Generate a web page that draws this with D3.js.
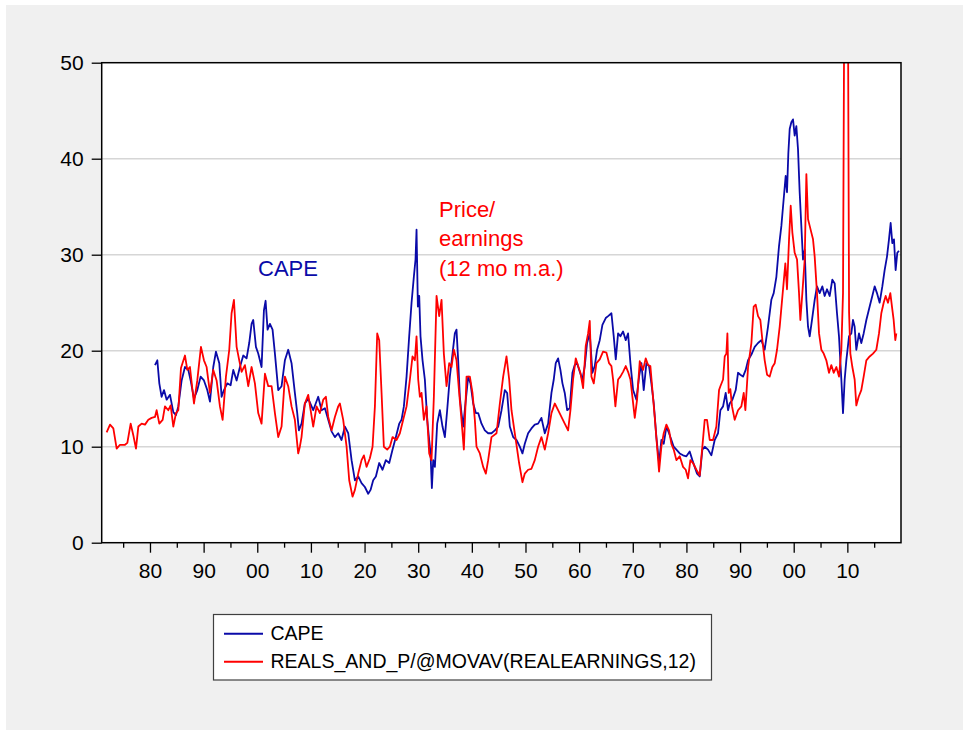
<!DOCTYPE html>
<html>
<head>
<meta charset="utf-8">
<script src="https://cdn.jsdelivr.net/npm/d3@7"></script>
<style>
body { margin: 0; background: #fff; }
text { font-family: "Liberation Sans", Arial, sans-serif; }
</style>
</head>
<body>
<div id="chart"></div>
<script>
// values, [decimal year, ratio]
var capeData = [
  [1880.93,18.5],[1881.37,19.0],[1881.74,16.6],[1882.17,15.2],[1882.61,15.9],[1883.11,14.9],[1883.73,15.4],
  [1884.35,13.6],[1884.85,13.3],[1885.28,14.2],[1885.90,16.9],[1886.52,18.3],[1887.14,18.0],[1887.58,16.9],
  [1888.20,15.0],[1888.82,15.9],[1889.44,17.3],[1890.06,16.9],[1890.68,15.9],[1891.18,14.7],[1891.80,18.3],
  [1892.30,19.9],[1892.92,18.7],[1893.35,15.2],[1893.79,15.9],[1894.41,16.6],[1895.03,16.4],[1895.53,18.0],
  [1896.15,16.9],[1896.77,18.3],[1897.39,19.5],[1898.01,19.2],[1898.50,20.8],[1898.94,22.8],[1899.25,23.2],
  [1899.75,20.4],[1900.18,19.7],[1900.80,18.3],[1901.24,24.2],[1901.55,25.2],[1901.92,22.2],[1902.36,22.8],
  [1902.85,22.2],[1903.29,19.7],[1903.91,15.9],[1904.53,16.3],[1905.15,19.0],[1905.77,20.1],[1906.39,18.7],
  [1907.01,15.6],[1907.45,13.5],[1907.76,11.7],[1908.25,12.4],[1908.87,14.5],[1909.50,15.0],[1910.43,13.8],
  [1911.36,15.2],[1911.99,13.8],[1912.61,14.0],[1913.23,12.8],[1913.85,11.6],[1914.47,11.0],[1915.09,11.4],
  [1915.71,10.7],[1916.34,12.1],[1916.96,11.4],[1917.58,8.6],[1918.20,6.5],[1918.82,6.9],[1919.44,6.2],
  [1920.06,5.8],[1920.68,5.1],[1921.12,5.5],[1921.61,6.5],[1922.11,6.9],[1922.73,8.3],[1923.35,7.6],
  [1923.97,8.6],[1924.60,8.3],[1925.22,9.7],[1925.84,11.0],[1926.46,12.4],[1926.89,12.8],[1927.33,14.2],
  [1927.83,17.3],[1928.32,21.5],[1928.76,25.0],[1929.19,27.7],[1929.50,29.5],[1929.69,32.6],[1929.94,24.6],
  [1930.19,25.7],[1930.43,21.5],[1930.81,19.0],[1931.24,17.0],[1931.68,12.8],[1932.05,10.7],[1932.30,9.3],
  [1932.55,5.7],[1932.80,8.6],[1933.11,7.9],[1933.54,12.4],[1934.04,13.8],[1934.53,12.1],[1934.97,11.0],
  [1935.40,13.8],[1935.90,17.3],[1936.40,19.7],[1936.83,21.8],[1937.14,22.2],[1937.45,19.0],[1937.76,15.2],
  [1938.07,13.5],[1938.38,12.1],[1938.88,14.9],[1939.32,17.3],[1939.75,16.6],[1940.25,14.5],[1940.75,13.5],
  [1941.18,13.5],[1941.80,12.4],[1942.42,11.7],[1943.04,11.4],[1943.66,11.4],[1944.29,11.7],[1944.91,12.1],
  [1945.53,13.8],[1946.15,15.9],[1946.58,15.6],[1947.08,12.1],[1947.70,11.0],[1948.32,10.7],[1948.94,10.0],
  [1949.43,9.3],[1949.87,10.3],[1950.49,11.4],[1951.11,11.9],[1951.73,12.3],[1952.35,12.4],[1952.97,13.0],
  [1953.60,11.4],[1954.22,12.4],[1954.84,15.6],[1955.27,17.0],[1955.64,18.7],[1956.08,19.2],[1956.51,18.0],
  [1956.89,16.6],[1957.32,15.6],[1957.76,13.8],[1958.25,14.0],[1958.75,17.7],[1959.18,18.5],[1959.62,18.7],
  [1960.12,17.8],[1960.61,17.0],[1961.05,18.4],[1961.48,20.8],[1961.98,21.8],[1962.48,17.7],[1962.91,18.4],
  [1963.35,20.1],[1963.84,21.1],[1964.34,22.7],[1964.96,23.4],[1965.40,23.6],[1966.02,23.9],[1966.45,21.5],
  [1966.83,19.1],[1967.26,21.8],[1967.69,21.5],[1968.19,22.0],[1968.69,21.1],[1969.12,21.8],[1969.56,18.7],
  [1970.06,15.9],[1970.68,14.9],[1971.17,17.3],[1971.61,18.7],[1972.04,15.9],[1972.54,18.7],[1973.04,18.4],
  [1973.47,16.6],[1973.91,14.5],[1974.40,11.0],[1974.90,8.3],[1975.33,10.7],[1975.77,10.3],[1976.27,12.1],
  [1976.76,11.4],[1977.20,10.7],[1977.63,10.0],[1978.13,9.7],[1978.75,9.3],[1979.37,9.1],[1979.99,9.0],
  [1980.61,9.5],[1981.11,8.6],[1981.54,7.9],[1981.98,7.2],[1982.48,6.9],[1982.97,9.7],[1983.41,10.0],
  [1984.03,9.7],[1984.65,9.1],[1985.27,10.7],[1985.89,11.4],[1986.33,13.8],[1986.83,14.2],[1987.32,15.6],
  [1987.76,13.8],[1988.07,14.5],[1988.57,14.9],[1989.19,15.9],[1989.62,17.7],[1990.06,17.5],[1990.55,17.3],
  [1991.05,18.0],[1991.49,19.0],[1992.11,19.6],[1992.73,20.4],[1993.35,20.8],[1993.97,21.1],[1994.59,20.1],
  [1995.21,22.5],[1995.83,25.3],[1996.27,26.0],[1996.77,27.7],[1997.26,30.9],[1997.70,33.0],[1998.13,35.8],
  [1998.50,38.2],[1998.75,36.5],[1999.00,40.6],[1999.25,43.1],[1999.56,43.8],[1999.87,44.1],[2000.18,42.4],
  [2000.49,43.4],[2000.80,41.0],[2001.11,36.5],[2001.42,33.0],[2001.73,29.5],[2002.05,30.5],[2002.36,25.3],
  [2002.67,22.5],[2002.98,21.5],[2003.41,23.2],[2003.91,25.3],[2004.34,26.7],[2004.84,26.0],[2005.34,26.7],
  [2005.77,25.7],[2006.21,26.4],[2006.70,25.7],[2007.20,27.4],[2007.64,27.0],[2008.07,23.9],[2008.44,21.5],
  [2008.88,17.0],[2009.19,13.5],[2009.50,17.0],[2009.81,19.0],[2010.31,21.5],[2010.74,21.8],[2011.05,23.2],
  [2011.36,22.5],[2011.67,20.1],[2012.17,21.8],[2012.60,20.8],[2013.04,21.8],[2013.54,23.2],[2014.16,24.6],
  [2014.65,25.7],[2015.09,26.7],[2015.52,26.0],[2016.02,25.0],[2016.52,26.7],[2016.95,28.4],[2017.39,29.8],
  [2017.76,31.6],[2018.07,33.3],[2018.38,31.2],[2018.69,31.6],[2019.00,28.4],[2019.31,30.2],[2019.62,30.4]
];

var peData = [
  [1871.92,11.5],[1872.55,12.3],[1873.17,11.9],[1873.79,9.8],[1874.41,10.2],[1875.34,10.2],[1875.78,10.4],
  [1876.40,12.4],[1876.89,11.2],[1877.39,9.8],[1877.83,12.1],[1878.45,12.4],[1879.07,12.3],[1879.69,12.8],
  [1880.31,13.0],[1880.93,13.1],[1881.24,13.8],[1881.74,12.4],[1882.36,12.8],[1882.79,14.2],[1883.42,13.8],
  [1883.85,14.3],[1884.35,12.1],[1884.85,13.5],[1885.28,13.8],[1885.78,18.2],[1886.52,19.5],[1886.96,18.0],
  [1887.45,18.3],[1888.20,14.5],[1888.82,16.9],[1889.50,20.4],[1890.06,19.0],[1890.56,18.3],[1891.18,15.6],
  [1891.80,18.0],[1892.42,16.9],[1893.04,14.2],[1893.54,12.8],[1894.16,17.3],[1894.78,20.1],[1895.21,23.9],
  [1895.65,25.3],[1896.15,20.4],[1896.64,19.0],[1897.08,17.8],[1897.70,18.5],[1898.32,16.3],[1898.94,18.3],
  [1899.56,16.6],[1900.18,13.5],[1900.80,12.4],[1901.43,17.6],[1902.05,16.3],[1902.67,16.3],[1903.29,13.5],
  [1903.91,11.0],[1904.53,12.1],[1905.15,17.3],[1905.77,16.3],[1906.39,14.2],[1907.01,12.8],[1907.63,9.3],
  [1907.94,10.0],[1908.25,11.0],[1908.87,14.5],[1909.50,15.4],[1910.43,12.1],[1911.05,14.2],[1911.67,13.5],
  [1912.30,14.9],[1912.79,15.2],[1913.23,13.1],[1913.85,11.7],[1914.47,13.1],[1915.09,14.2],[1915.40,14.5],
  [1916.02,12.8],[1916.65,10.0],[1917.14,6.5],[1917.76,4.8],[1918.20,5.5],[1918.82,7.2],[1919.44,8.6],
  [1919.88,9.1],[1920.37,7.9],[1920.99,8.8],[1921.49,10.0],[1921.93,14.2],[1922.36,21.8],[1922.73,21.1],
  [1923.17,15.6],[1923.60,10.0],[1924.22,9.7],[1924.72,10.0],[1925.22,11.0],[1925.96,10.7],[1926.58,11.4],
  [1927.20,12.8],[1927.83,14.2],[1928.45,17.0],[1928.94,19.4],[1929.38,19.0],[1929.69,21.5],[1930.00,17.0],
  [1930.31,15.2],[1930.62,15.6],[1931.06,12.8],[1931.55,14.2],[1932.05,9.3],[1932.48,8.6],[1932.92,15.2],
  [1933.42,25.7],[1933.91,23.6],[1934.35,25.3],[1934.78,19.7],[1935.28,16.3],[1935.78,18.7],[1936.21,18.3],
  [1936.65,20.1],[1937.14,19.0],[1937.64,15.6],[1938.07,12.8],[1938.51,9.7],[1939.01,17.3],[1939.63,17.3],
  [1940.12,15.6],[1940.56,12.8],[1940.87,10.0],[1941.49,9.3],[1942.11,7.9],[1942.61,7.2],[1943.04,8.6],
  [1943.66,11.0],[1944.60,11.4],[1945.22,14.5],[1945.84,17.3],[1946.46,19.4],[1946.96,17.0],[1947.39,13.8],
  [1948.01,11.4],[1948.63,9.0],[1948.81,8.3],[1949.43,6.3],[1949.87,7.2],[1950.49,7.6],[1951.11,7.7],
  [1951.73,8.6],[1952.35,10.0],[1952.97,11.0],[1953.60,9.7],[1954.22,11.4],[1954.84,13.5],[1955.46,14.5],
  [1956.08,13.8],[1956.70,13.1],[1957.32,12.4],[1957.94,11.7],[1958.38,13.8],[1958.87,17.0],[1959.37,19.2],
  [1959.81,18.4],[1960.24,17.7],[1960.74,16.1],[1961.23,20.5],[1961.67,21.8],[1961.98,23.1],[1962.29,17.3],
  [1962.73,16.6],[1963.22,18.7],[1963.84,19.1],[1964.46,19.9],[1965.09,19.8],[1965.58,18.7],[1966.02,18.4],
  [1966.33,17.0],[1966.76,14.2],[1967.26,17.0],[1967.69,17.3],[1968.19,17.8],[1968.69,18.4],[1969.12,17.8],
  [1969.56,17.0],[1969.93,15.2],[1970.37,13.0],[1970.80,14.9],[1971.30,18.9],[1971.92,18.0],[1972.41,19.2],
  [1972.85,18.5],[1973.28,18.4],[1973.66,15.9],[1974.09,13.1],[1974.53,10.0],[1974.90,7.4],[1975.33,10.0],
  [1975.77,11.4],[1976.27,12.3],[1976.76,11.7],[1977.20,10.3],[1977.63,9.7],[1978.13,8.6],[1978.75,9.0],
  [1979.37,7.9],[1979.87,7.6],[1980.30,6.7],[1980.74,8.6],[1981.23,8.3],[1981.86,7.6],[1982.48,7.0],
  [1982.97,10.0],[1983.41,12.8],[1983.84,12.8],[1984.34,10.7],[1984.96,10.7],[1985.58,12.1],[1986.08,15.9],
  [1986.33,16.3],[1986.83,17.0],[1987.14,19.4],[1987.45,19.7],[1987.64,21.8],[1987.88,15.6],[1988.19,16.0],
  [1988.50,14.2],[1989.00,12.8],[1989.62,13.8],[1990.24,14.2],[1990.68,15.6],[1990.99,13.8],[1991.49,18.3],
  [1992.11,20.8],[1992.54,24.6],[1992.91,24.8],[1993.35,23.6],[1993.78,23.2],[1994.16,21.1],[1994.59,19.0],
  [1995.03,17.5],[1995.52,17.3],[1996.02,18.3],[1996.46,18.7],[1996.89,20.1],[1997.39,22.5],[1998.01,26.4],
  [1998.44,29.1],[1998.75,26.4],[1999.13,31.6],[1999.44,35.1],[1999.75,32.3],[2000.18,30.2],[2000.62,29.5],
  [2000.99,26.0],[2001.24,23.2],[2001.61,26.0],[2002.05,29.5],[2002.36,38.4],[2002.67,33.7],[2002.98,33.0],
  [2003.29,32.3],[2003.60,31.6],[2003.91,29.8],[2004.34,26.0],[2004.72,21.8],[2005.15,20.1],[2005.59,19.7],
  [2006.08,19.0],[2006.58,17.7],[2007.01,18.5],[2007.45,17.7],[2007.95,18.3],[2008.44,17.3],[2008.88,20.1],
  [2009.19,26.0],[2009.45,60.0],[2009.60,120.0],[2009.95,110.0],[2010.12,55.0],[2010.32,24.0],[2010.56,19.7],
  [2010.93,18.3],[2011.36,17.0],[2011.67,14.3],[2012.11,15.2],[2012.60,15.9],[2013.04,17.3],[2013.54,19.0],
  [2014.16,19.4],[2014.78,19.7],[2015.40,20.1],[2015.90,21.8],[2016.33,23.9],[2016.77,25.0],[2017.14,25.7],
  [2017.57,25.0],[2018.01,26.0],[2018.38,24.3],[2018.63,23.2],[2018.94,21.1],[2019.13,21.8]
];

var seriesNames = ["CAPE", "REALS_AND_P/@MOVAV(REALEARNINGS,12)"];
var seriesColors = ["#0a0aa8", "#ff0000"];
var yTicks = [0, 10, 20, 30, 40, 50];
var gridTicks = [10, 20, 30, 40];
var xMajorTicks = [1880, 1890, 1900, 1910, 1920, 1930, 1940, 1950, 1960, 1970, 1980, 1990, 2000, 2010];
var xTickLabels = ["80", "90", "00", "10", "20", "30", "40", "50", "60", "70", "80", "90", "00", "10"];
var xMinorTicks = [1875, 1885, 1895, 1905, 1915, 1925, 1935, 1945, 1955, 1965, 1975, 1985, 1995, 2005, 2015];
var peNote = ["Price/", "earnings", "(12 mo m.a.)"];

function init() {
  var w = 964, h = 734;
  var left = 101.7, right = 901, top = 62.7, bottom = 542.7;

  var svg = d3.select("#chart")
    .append("svg")
    .attr("width", w)
    .attr("height", h);

  // grey panel
  svg.append("rect")
    .attr("x", 6).attr("y", 5)
    .attr("width", 957).attr("height", 725)
    .attr("fill", "#f0f0f0");

  var xScale = d3.scaleLinear().domain([1871, 2020]).range([left, right]);
  var yScale = d3.scaleLinear().domain([0, 50]).range([bottom, top]);

  svg.append("rect")
    .attr("x", left).attr("y", top)
    .attr("width", right - left).attr("height", bottom - top)
    .attr("fill", "#fff");

  svg.selectAll("line.grid")
    .data(gridTicks)
    .enter()
    .append("line")
    .attr("class", "grid")
    .attr("x1", left)
    .attr("x2", right)
    .attr("y1", function(d) { return yScale(d); })
    .attr("y2", function(d) { return yScale(d); })
    .attr("stroke", "#d6d6d6")
    .attr("stroke-width", 1.5);

  svg.append("clipPath")
    .attr("id", "plotclip")
    .append("rect")
    .attr("x", left).attr("y", top)
    .attr("width", right - left).attr("height", bottom - top);

  var line = d3.line()
    .x(function(d) { return xScale(d[0]); })
    .y(function(d) { return yScale(d[1]); });

  svg.selectAll("path.series")
    .data([capeData, peData])
    .enter()
    .append("path")
    .attr("class", "series")
    .attr("clip-path", "url(#plotclip)")
    .attr("d", line)
    .attr("fill", "none")
    .attr("stroke", function(d, i) { return seriesColors[i]; })
    .attr("stroke-width", 1.8)
    .attr("stroke-linejoin", "round");

  // frame
  svg.append("rect")
    .attr("x", left).attr("y", top)
    .attr("width", right - left).attr("height", bottom - top)
    .attr("fill", "none")
    .attr("stroke", "#000")
    .attr("stroke-width", 1.5);

  var yAxis = d3.axisLeft(yScale)
    .tickValues(yTicks)
    .tickSize(10)
    .tickPadding(8);

  var yg = svg.append("g")
    .attr("transform", "translate(" + left + ",0)")
    .call(yAxis);

  var xAxis = d3.axisBottom(xScale)
    .tickValues(xMajorTicks)
    .tickSize(10)
    .tickPadding(10)
    .tickFormat(function(d, i) { return xTickLabels[i]; });

  var xg = svg.append("g")
    .attr("transform", "translate(0," + bottom + ")")
    .call(xAxis);

  var xMinor = d3.axisBottom(xScale)
    .tickValues(xMinorTicks)
    .tickSize(5)
    .tickFormat("");

  var xm = svg.append("g")
    .attr("transform", "translate(0," + bottom + ")")
    .call(xMinor);

  [yg, xg, xm].forEach(function(g) {
    g.select(".domain").remove();
    g.selectAll(".tick line").attr("stroke", "#000").attr("stroke-width", 1.3);
    g.selectAll(".tick text")
      .attr("fill", "#000")
      .style("font-size", "21px")
      .style("font-family", "'Liberation Sans', Arial, sans-serif");
  });

  // annotations
  svg.append("text")
    .attr("x", 258)
    .attr("y", 276)
    .attr("fill", seriesColors[0])
    .style("font-size", "22px")
    .text("CAPE");

  svg.selectAll("text.penote")
    .data(peNote)
    .enter()
    .append("text")
    .attr("class", "penote")
    .attr("x", 439)
    .attr("y", function(d, i) { return 216.5 + i * 29.8; })
    .attr("fill", seriesColors[1])
    .style("font-size", "22px")
    .text(function(d) { return d; });

  // legend
  var legend = svg.append("g");
  legend.append("rect")
    .attr("x", 213.5).attr("y", 614.5)
    .attr("width", 498).attr("height", 65.5)
    .attr("fill", "#fff")
    .attr("stroke", "#404040")
    .attr("stroke-width", 1.2);

  var rows = legend.selectAll("g.row")
    .data(seriesNames)
    .enter()
    .append("g")
    .attr("class", "row")
    .attr("transform", function(d, i) { return "translate(0," + (633.7 + i * 28) + ")"; });

  rows.append("line")
    .attr("x1", 224).attr("x2", 263)
    .attr("y1", 0).attr("y2", 0)
    .attr("stroke", function(d, i) { return seriesColors[i]; })
    .attr("stroke-width", 2);

  rows.append("text")
    .attr("x", 270.5)
    .attr("y", 6.5)
    .attr("fill", "#000")
    .style("font-size", "19.5px")
    .text(function(d) { return d; });
}

window.onload = init;
</script>
</body>
</html>
